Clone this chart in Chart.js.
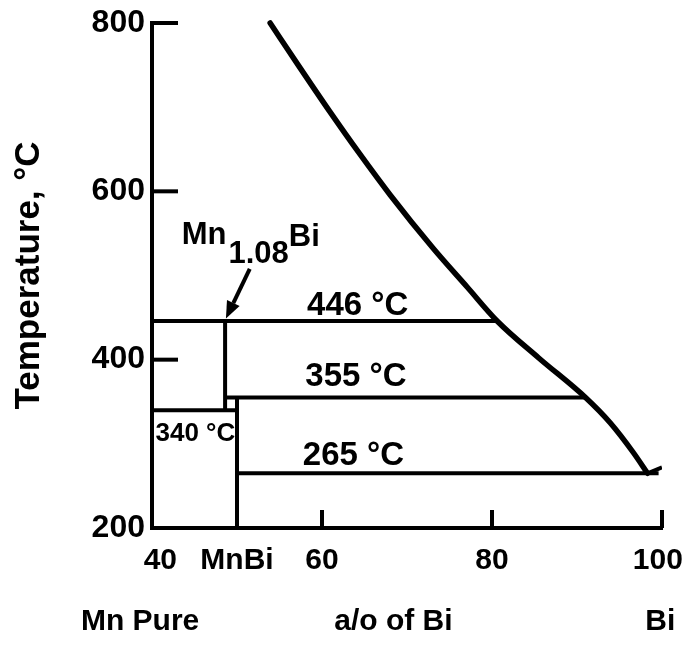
<!DOCTYPE html>
<html>
<head>
<meta charset="utf-8">
<script src="https://cdn.jsdelivr.net/npm/chart.js@4.4.0/dist/chart.umd.min.js"></script>
<style>
    html, body { margin: 0; padding: 0; background: #fff; }
    #wrap { width: 686px; height: 649px; position: relative; }
</style>
</head>
<body>
<div id="wrap"><canvas id="phaseChart"></canvas></div>
<script>
// --- Axis ticks ---
const xTicks = [40, 50, 60, 80, 100];
const xTickLabels = ['  40', 'MnBi', '60', '80', '100 '];
const yTicks = [200, 400, 600, 800];

// --- Liquidus (a/o Bi, °C) ---
const liquidusBi = [53.9, 57.4, 60.9, 64.4, 68.0, 73.1, 77.1, 80.6, 85.5, 91.0, 93.9, 96.6, 98.3];
const liquidusTemp = [800, 747, 695, 645, 596, 532, 486, 446, 402, 355, 325, 290, 265];

// short rise from the eutectic to pure Bi
const biEndBi = [98.3, 100];
const biEndTemp = [265, 272];

// --- Horizontal isotherms ---
const isothermTemp = [446, 355, 340, 265];
const isothermFrom = [40, 48.6, 40, 50];
const isothermTo = [80.6, 91.0, 50, 99.6];

// --- Vertical phase boundaries (Mn1.08Bi, MnBi) ---
const phaseBi = [48.6, 50];
const phaseTop = [446, 355];
const phaseBottom = [340, 200];

// --- Isotherm labels ---
const isothermLabels = ['446 °C', '355 °C', '340 °C', '265 °C'];

const ink = '#000';
const fontFamily = "'Liberation Sans', Arial, Helvetica, sans-serif";

const lineStyle = {
    borderColor: ink,
    borderWidth: 4,
    pointRadius: 0,
    showLine: true,
    fill: false,
    tension: 0
};

const datasets = [];

datasets.push({
    ...lineStyle,
    data: liquidusBi.map((b, i) => ({ x: b, y: liquidusTemp[i] })),
    borderWidth: 5.5,
    cubicInterpolationMode: 'monotone',
    borderCapStyle: 'round',
    clip: false
});

datasets.push({
    ...lineStyle,
    data: biEndBi.map((b, i) => ({ x: b, y: biEndTemp[i] }))
});

isothermTemp.forEach((t, i) => {
    datasets.push({
        ...lineStyle,
        data: [{ x: isothermFrom[i], y: t }, { x: isothermTo[i], y: t }]
    });
});

phaseBi.forEach((b, i) => {
    datasets.push({
        ...lineStyle,
        data: [{ x: b, y: phaseTop[i] }, { x: b, y: phaseBottom[i] }]
    });
});

// --- Inward ticks, arrow and text labels ---
const decorPlugin = {
    id: 'decor',
    afterDatasetsDraw(chart) {
        const { ctx, chartArea, scales: { x, y } } = chart;
        ctx.save();
        ctx.strokeStyle = ink;
        ctx.fillStyle = ink;
        ctx.lineWidth = 4;

        // tick marks pointing into the plot
        yTicks.filter(v => v > 200).forEach(v => {
            const py = y.getPixelForValue(v);
            ctx.beginPath();
            ctx.moveTo(chartArea.left, py);
            ctx.lineTo(chartArea.left + 26, py);
            ctx.stroke();
        });
        xTicks.filter(v => v >= 60).forEach(v => {
            const px = x.getPixelForValue(v);
            ctx.beginPath();
            ctx.moveTo(px, chartArea.bottom);
            ctx.lineTo(px, chartArea.bottom - 18);
            ctx.stroke();
        });

        // arrow to the Mn1.08Bi line
        const tx = x.getPixelForValue(51.5), ty = y.getPixelForValue(508);
        const hx = x.getPixelForValue(48.7), hy = y.getPixelForValue(449);
        const ang = Math.atan2(hy - ty, hx - tx);
        const headLen = 17, headW = 7;
        const bx = hx - headLen * Math.cos(ang), by = hy - headLen * Math.sin(ang);
        ctx.beginPath();
        ctx.moveTo(tx, ty);
        ctx.lineTo(bx, by);
        ctx.stroke();
        ctx.beginPath();
        ctx.moveTo(hx, hy);
        ctx.lineTo(bx + headW * Math.sin(ang), by - headW * Math.cos(ang));
        ctx.lineTo(bx - headW * Math.sin(ang), by + headW * Math.cos(ang));
        ctx.closePath();
        ctx.fill();

        // Mn1.08Bi with subscript
        ctx.textAlign = 'left';
        ctx.textBaseline = 'alphabetic';
        ctx.font = `bold 31px ${fontFamily}`;
        let lx = x.getPixelForValue(43.5);
        const ly = y.getPixelForValue(538);
        ctx.fillText('Mn', lx, ly);
        lx += ctx.measureText('Mn').width + 2;
        ctx.fillText('1.08', lx, ly + 19);
        lx += ctx.measureText('1.08').width;
        ctx.fillText('Bi', lx, ly + 2);

        // isotherm labels
        ctx.textAlign = 'center';
        ctx.textBaseline = 'middle';
        const labelAt = [[64.2, 464], [64.0, 379], [45.1, 312], [63.7, 286]];
        isothermLabels.forEach((txt, i) => {
            ctx.font = `bold ${i === 2 ? 26 : 33}px ${fontFamily}`;
            ctx.fillText(txt, x.getPixelForValue(labelAt[i][0]), y.getPixelForValue(labelAt[i][1]));
        });

        // labels under the axis
        ctx.font = `bold 30px ${fontFamily}`;
        ctx.textBaseline = 'alphabetic';
        const by2 = chartArea.bottom + 102;
        ctx.fillText('Mn Pure', x.getPixelForValue(38.6), by2);
        ctx.fillText('a/o of Bi', x.getPixelForValue(68.4), by2);
        ctx.fillText('Bi', x.getPixelForValue(99.8), by2);

        ctx.restore();
    }
};

const ctx = document.getElementById('phaseChart').getContext('2d');
new Chart(ctx, {
    type: 'scatter',
    data: { datasets },
    options: {
        responsive: true,
        maintainAspectRatio: false,
        animation: false,
        events: [],
        layout: { padding: { top: 23, right: 24, bottom: 0, left: 0 } },
        plugins: { legend: { display: false }, tooltip: { enabled: false } },
        scales: {
            x: {
                type: 'linear',
                min: 40,
                max: 100,
                afterBuildTicks: (scale) => { scale.ticks = xTicks.map(v => ({ value: v })); },
                afterFit: (scale) => {
                    scale.height = 121;
                    scale.paddingLeft = 0;
                    scale.paddingRight = 0;
                },
                ticks: {
                    autoSkip: false,
                    maxRotation: 0,
                    padding: 15,
                    color: ink,
                    font: { family: fontFamily, size: 30, weight: 'bold' },
                    callback: (v) => xTickLabels[xTicks.indexOf(v)]
                },
                grid: { display: false, drawTicks: false },
                border: { display: true, color: ink, width: 4 }
            },
            y: {
                type: 'linear',
                min: 200,
                max: 800,
                afterBuildTicks: (scale) => { scale.ticks = yTicks.map(v => ({ value: v })); },
                afterFit: (scale) => {
                    scale.width = 152;
                    scale.paddingTop = 0;
                    scale.paddingBottom = 0;
                },
                ticks: {
                    padding: 7,
                    color: ink,
                    font: { family: fontFamily, size: 32, weight: 'bold' },
                    callback: (v) => String(v)
                },
                title: {
                    display: true,
                    text: 'Temperature, °C',
                    color: ink,
                    padding: { top: 8, bottom: 0 },
                    font: { family: fontFamily, size: 35, weight: 'bold' }
                },
                grid: { display: false, drawTicks: false },
                border: { display: true, color: ink, width: 4 }
            }
        }
    },
    plugins: [decorPlugin]
});
</script>
</body>
</html>
